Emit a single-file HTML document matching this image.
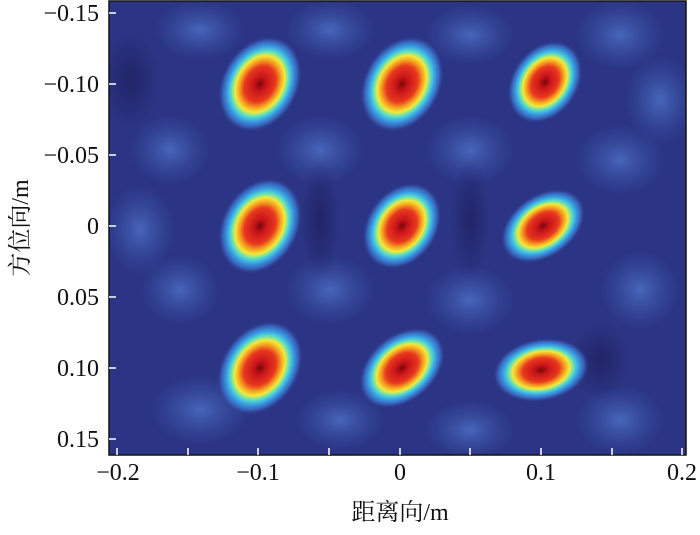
<!DOCTYPE html>
<html><head><meta charset="utf-8"><style>
body{margin:0;background:#fff;width:700px;height:530px;overflow:hidden}
text{font-family:"Liberation Serif","Noto Serif CJK SC",serif;fill:#111}
</style></head><body>
<svg width="700" height="530" viewBox="0 0 700 530">
<defs>
<radialGradient id="spot">
<stop offset="0" stop-color="#7a0808"/>
<stop offset="0.15" stop-color="#c8141a"/>
<stop offset="0.38" stop-color="#e8381e"/>
<stop offset="0.5" stop-color="#f5a020"/>
<stop offset="0.6" stop-color="#f2ea3a"/>
<stop offset="0.69" stop-color="#5ee0c0"/>
<stop offset="0.78" stop-color="#3aa8e8"/>
<stop offset="0.9" stop-color="#3a70c8" stop-opacity="0.8"/>
<stop offset="1" stop-color="#34489e" stop-opacity="0"/>
</radialGradient>
<radialGradient id="blob">
<stop offset="0" stop-color="#4a6cc0" stop-opacity="0.9"/>
<stop offset="1" stop-color="#3a55a8" stop-opacity="0"/>
</radialGradient>
<radialGradient id="dark">
<stop offset="0" stop-color="#1e2060" stop-opacity="0.8"/>
<stop offset="1" stop-color="#1e2060" stop-opacity="0"/>
</radialGradient>
<clipPath id="c"><rect x="109" y="1" width="577" height="454"/></clipPath>
</defs>
<g clip-path="url(#c)">
<rect x="109" y="1" width="577" height="454" fill="#2c3585"/>
<g fill="url(#blob)">
<ellipse cx="200" cy="30" rx="45" ry="30"/><ellipse cx="330" cy="30" rx="45" ry="30"/>
<ellipse cx="470" cy="35" rx="45" ry="30"/><ellipse cx="620" cy="35" rx="45" ry="35"/>
<ellipse cx="170" cy="150" rx="40" ry="35"/><ellipse cx="320" cy="150" rx="45" ry="35"/>
<ellipse cx="470" cy="150" rx="45" ry="35"/><ellipse cx="620" cy="160" rx="45" ry="35"/>
<ellipse cx="180" cy="290" rx="40" ry="35"/><ellipse cx="330" cy="290" rx="45" ry="35"/>
<ellipse cx="470" cy="300" rx="45" ry="35"/><ellipse cx="640" cy="290" rx="40" ry="40"/>
<ellipse cx="200" cy="410" rx="50" ry="35"/><ellipse cx="340" cy="420" rx="45" ry="30"/>
<ellipse cx="470" cy="430" rx="45" ry="30"/><ellipse cx="620" cy="420" rx="45" ry="35"/>
<ellipse cx="140" cy="230" rx="35" ry="45"/><ellipse cx="660" cy="100" rx="35" ry="45"/>
</g>
<g fill="url(#dark)">
<ellipse cx="130" cy="80" rx="30" ry="50"/><ellipse cx="320" cy="220" rx="20" ry="60"/>
<ellipse cx="470" cy="220" rx="20" ry="60"/><ellipse cx="600" cy="360" rx="30" ry="40"/>
</g>
<g fill="url(#spot)">
<ellipse cx="0" cy="0" rx="38" ry="50" transform="translate(260,84) rotate(30)"/>
<ellipse cx="0" cy="0" rx="38" ry="50" transform="translate(402,84) rotate(30)"/>
<ellipse cx="0" cy="0" rx="33" ry="44" transform="translate(545,82) rotate(35)"/>
<ellipse cx="0" cy="0" rx="38" ry="50" transform="translate(260,226) rotate(30)"/>
<ellipse cx="0" cy="0" rx="35" ry="46" transform="translate(402,226) rotate(35)"/>
<ellipse cx="0" cy="0" rx="31" ry="46" transform="translate(543,226) rotate(55)"/>
<ellipse cx="0" cy="0" rx="38" ry="50" transform="translate(260,368) rotate(35)"/>
<ellipse cx="0" cy="0" rx="33" ry="48" transform="translate(402,368) rotate(50)"/>
<ellipse cx="0" cy="0" rx="31" ry="48" transform="translate(541,370) rotate(80)"/>
</g>
</g>
<rect x="109" y="1" width="577" height="454" fill="none" stroke="#111" stroke-width="1.5"/>
<g stroke="#fff" stroke-width="1.5">
<line x1="117" y1="455" x2="117" y2="448"/><line x1="188" y1="455" x2="188" y2="448"/>
<line x1="258" y1="455" x2="258" y2="448"/><line x1="329" y1="455" x2="329" y2="448"/>
<line x1="400" y1="455" x2="400" y2="448"/><line x1="470" y1="455" x2="470" y2="448"/>
<line x1="541" y1="455" x2="541" y2="448"/><line x1="612" y1="455" x2="612" y2="448"/>
<line x1="682" y1="455" x2="682" y2="448"/>
<line x1="109" y1="13" x2="116" y2="13"/><line x1="109" y1="84" x2="116" y2="84"/>
<line x1="109" y1="155" x2="116" y2="155"/><line x1="109" y1="226" x2="116" y2="226"/>
<line x1="109" y1="297" x2="116" y2="297"/><line x1="109" y1="368" x2="116" y2="368"/>
<line x1="109" y1="439" x2="116" y2="439"/>
</g>
<g font-size="24" text-anchor="middle">
<text x="118" y="480">−0.2</text><text x="258" y="480">−0.1</text>
<text x="400" y="480">0</text><text x="541" y="480">0.1</text><text x="682" y="480">0.2</text>
</g>
<g font-size="24" text-anchor="end">
<text x="99" y="21">−0.15</text><text x="99" y="92">−0.10</text>
<text x="99" y="163">−0.05</text><text x="99" y="234">0</text>
<text x="99" y="305">0.05</text><text x="99" y="376">0.10</text>
<text x="99" y="447">0.15</text>
</g>
<text x="400" y="520" font-size="24" text-anchor="middle">距离向/m</text>
<text x="0" y="0" font-size="24" text-anchor="middle" transform="translate(28,228) rotate(-90)">方位向/m</text>
</svg>
</body></html>
